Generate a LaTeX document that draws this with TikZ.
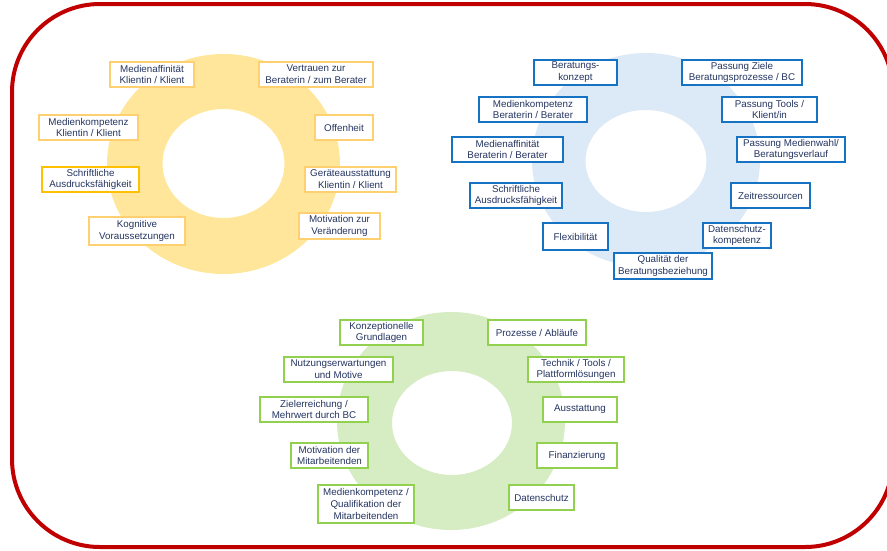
\documentclass[tikz,border=0pt]{standalone}
\usepackage{fontspec}
\setmainfont{Liberation Sans}
\definecolor{frame}{HTML}{C00000}
\definecolor{ringY}{HTML}{FFE69A}
\definecolor{ringB}{HTML}{DCE9F6}
\definecolor{ringG}{HTML}{D6ECC2}
\definecolor{lineY}{HTML}{FFD070}
\definecolor{lineYs}{HTML}{FFC000}
\definecolor{lineB}{HTML}{1673C4}
\definecolor{lineG}{HTML}{92D050}
\definecolor{txt}{HTML}{253561}
\tikzset{
  boxbase/.style={draw, fill=white, line width=1.6pt, inner sep=0pt, align=center,
    text=txt, font=\fontsize{9.8}{11.8}\selectfont},
  ybox/.style={boxbase, draw=lineY},
  ybox2/.style={boxbase, draw=lineYs},
  bbox/.style={boxbase, draw=lineB},
  gbox/.style={boxbase, draw=lineG},
}
\begin{document}
\begin{tikzpicture}[x=1pt,y=-1pt]
\useasboundingbox (0,0) rectangle (887,550);
% frame
\draw[frame, line width=4pt, rounded corners=88pt] (12,4) rectangle (893,547);
% rings
\fill[ringY, even odd rule] (223.5,164) ellipse [x radius=116.5pt, y radius=110pt]
  (223.5,163.5) ellipse [x radius=61pt, y radius=54.5pt];
\fill[ringB, even odd rule] (646,160) ellipse [x radius=114pt, y radius=107pt]
  (646,161) ellipse [x radius=60.5pt, y radius=51pt];
\fill[ringG, even odd rule] (451,421) ellipse [x radius=114pt, y radius=109pt]
  (452,423) ellipse [x radius=60pt, y radius=52pt];
% yellow boxes
\node[ybox, minimum width=84pt, minimum height=25pt] (y1) at (152,74.5) {Medienaffinität\\Klientin / Klient};
\node[ybox, minimum width=114pt, minimum height=25pt] (y2) at (316,74.5) {Vertrauen zur\\Beraterin / zum Berater};
\node[ybox, minimum width=99pt, minimum height=25pt] (y3) at (88.5,127.5) {Medienkompetenz\\Klientin / Klient};
\node[ybox, minimum width=58pt, minimum height=25pt] (y4) at (344,127.5) {Offenheit};
\node[ybox2, minimum width=97pt, minimum height=25pt] (y5) at (90.5,179.5) {Schriftliche\\Ausdrucksfähigkeit};
\node[ybox, minimum width=91pt, minimum height=25pt] (y6) at (350.5,179.5) {Geräteausstattung\\Klientin / Klient};
\node[ybox, minimum width=96pt, minimum height=28pt] (y7) at (137,231) {Kognitive\\Voraussetzungen};
\node[ybox, minimum width=81pt, minimum height=26pt] (y8) at (339.5,226) {Motivation zur\\Veränderung};
% blue boxes
\node[bbox, minimum width=83pt, minimum height=25pt] (b1) at (575.5,72.5) {Beratungs-\\konzept};
\node[bbox, minimum width=120pt, minimum height=25pt] (b2) at (742,72.5) {Passung Ziele\\Beratungsprozesse / BC};
\node[bbox, minimum width=108pt, minimum height=25pt] (b3) at (533,109.5) {Medienkompetenz\\Beraterin / Berater};
\node[bbox, minimum width=95pt, minimum height=25pt] (b4) at (769.5,109.5) {Passung Tools /\\Klient/in};
\node[bbox, minimum width=111pt, minimum height=25pt] (b5) at (507.5,149.5) {Medienaffinität\\Beraterin / Berater};
\node[bbox, minimum width=108pt, minimum height=25pt] (b6) at (791,149.5) {Passung Medienwahl/\\Beratungsverlauf};
\node[bbox, minimum width=92pt, minimum height=25pt] (b7) at (516,195.5) {Schriftliche\\Ausdrucksfähigkeit};
\node[bbox, minimum width=79pt, minimum height=25pt] (b8) at (770.5,195.5) {Zeitressourcen};
\node[bbox, minimum width=65pt, minimum height=27pt] (b9) at (575.5,236.5) {Flexibilität};
\node[bbox, minimum width=68pt, minimum height=25pt] (b10) at (737,235.5) {Datenschutz-\\kompetenz};
\node[bbox, minimum width=98pt, minimum height=26pt] (b11) at (663,266) {Qualität der\\Beratungsbeziehung};
% green boxes
\node[gbox, minimum width=83pt, minimum height=25pt] (g1) at (381.5,332.5) {Konzeptionelle\\Grundlagen};
\node[gbox, minimum width=98pt, minimum height=25pt] (g2) at (537,332.5) {Prozesse / Abläufe};
\node[gbox, minimum width=109pt, minimum height=25pt] (g3) at (338.5,369.5) {Nutzungserwartungen\\und Motive};
\node[gbox, minimum width=96pt, minimum height=25pt] (g4) at (576,369.5) {Technik / Tools /\\Plattformlösungen};
\node[gbox, minimum width=108pt, minimum height=25pt] (g5) at (314,409.5) {Zielerreichung /\\Mehrwert durch BC};
\node[gbox, minimum width=74pt, minimum height=25pt] (g6) at (580,409.5) {Ausstattung};
\node[gbox, minimum width=77pt, minimum height=25pt] (g7) at (329.5,455.5) {Motivation der\\Mitarbeitenden};
\node[gbox, minimum width=80pt, minimum height=25pt] (g8) at (577,455.5) {Finanzierung};
\node[gbox, minimum width=96pt, minimum height=38pt] (g9) at (366,504) {Medienkompetenz /\\Qualifikation der\\Mitarbeitenden};
\node[gbox, minimum width=65pt, minimum height=25pt] (g10) at (541.5,497.5) {Datenschutz};
\end{tikzpicture}
\end{document}
